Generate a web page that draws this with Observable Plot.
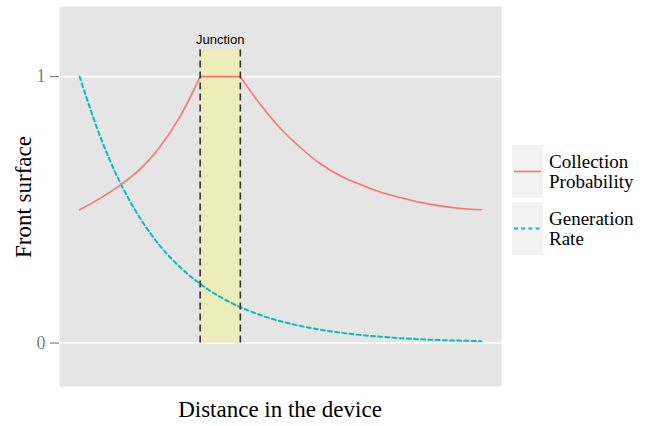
<!DOCTYPE html>
<html><head><meta charset="utf-8">
<script src="https://cdn.jsdelivr.net/npm/d3@7"></script>
<script src="https://cdn.jsdelivr.net/npm/@observablehq/plot@0.6"></script>
<style>
body{margin:0;background:#fff;}
#wrap{position:relative;width:648px;height:426px;overflow:hidden;}
.key{position:absolute;left:512px;width:31px;height:53px;background:#f2f2f2;}
.ktext{position:absolute;left:549px;height:53px;display:flex;align-items:center;font-family:"Liberation Serif","Times New Roman",serif;font-size:19px;line-height:20px;color:#000;}
</style></head><body><div id="wrap"></div>
<script>
// Collection probability (segmented: rising, flat across junction, falling)
const collectionX = [0,0.5,1,1.5,2,2.5,3, 3,4, 4,4.5,5,5.5,6,6.5,7,7.5,8,8.5,9,9.5,10];
const collectionY = [0.5,0.542,0.592,0.652,0.737,0.85,1, 1,1, 1,0.895,0.805,0.733,0.672,0.627,0.594,0.566,0.545,0.527,0.514,0.505,0.5];
const collectionSeg = [1,1,1,1,1,1,1, 2,2, 3,3,3,3,3,3,3,3,3,3,3,3,3];
// Generation rate
const generationX = [0,0.5,1,1.5,2,2.5,3,3.5,4,4.5,5,5.5,6,6.5,7,7.5,8,8.5,9,9.5,10];
const generationY = [1,0.78,0.605,0.47,0.365,0.285,0.222,0.173,0.135,0.105,0.082,0.064,0.05,0.039,0.03,0.024,0.018,0.014,0.011,0.009,0.007];
// Junction region
const junctionStart = 3, junctionEnd = 4, junctionTop = 1.1;
const junctionLabel = "Junction";
const yTicks = [0, 1];
const yTickLabels = ["0", "1"];
const seriesNames = ["Collection\nProbability", "Generation\nRate"];
const seriesColors = ["#F8766D", "#00BFC4"];
const xTitle = "Distance in the device";
const yTitle = "Front surface";

const collection = collectionX.map((x,i)=>({x, y: collectionY[i], seg: collectionSeg[i]}));
const generation = generationX.map((x,i)=>({x, y: generationY[i]}));
const ticks = yTicks.map((v,i)=>({v, label: yTickLabels[i]}));

const serif = "Liberation Serif, Times New Roman, serif";
const xMin = -0.5, xMax = 10.5;
const tickLen = 9 / 40.2; // tick length in x units

const plot = Plot.plot({
  width: 648, height: 426,
  marginLeft: 59, marginRight: 147, marginTop: 6, marginBottom: 40,
  style: {background: "white", fontFamily: serif},
  x: {type: "linear", domain: [xMin, xMax], axis: null},
  y: {type: "linear", domain: [-0.163, 1.263], axis: null},
  marks: [
    Plot.frame({fill: "#E5E5E5", stroke: null}),
    Plot.ruleY(yTicks, {stroke: "white", strokeWidth: 1.6}),
    // y-axis ticks and labels
    Plot.ruleY(ticks, {y: "v", x1: xMin - tickLen, x2: xMin, stroke: "#7f7f7f", strokeWidth: 1.2}),
    Plot.text(ticks, {frameAnchor: "left", y: "v", text: "label", dx: -14, textAnchor: "end", fontSize: 18, fontFamily: serif, fill: "#7f7f7f"}),
    Plot.rect([{x1: junctionStart, x2: junctionEnd, y1: 0, y2: junctionTop}], {x1: "x1", x2: "x2", y1: "y1", y2: "y2", fill: "#EDEDB9"}),
    Plot.line(generation, {x: "x", y: "y", stroke: seriesColors[1], strokeWidth: 2, strokeDasharray: "4,3.2", curve: "catmull-rom"}),
    Plot.line(collection, {x: "x", y: "y", z: "seg", stroke: seriesColors[0], strokeWidth: 1.6, curve: "catmull-rom"}),
    Plot.ruleX([junctionStart, junctionEnd], {y1: 0, y2: junctionTop, stroke: "#333", strokeWidth: 1.6, strokeDasharray: "7,4"}),
    Plot.text([junctionLabel], {x: (junctionStart+junctionEnd)/2, y: 1.137, text: d => d, fontFamily: "Liberation Sans, Arial, sans-serif", fontSize: 13, fill: "#000"})
  ]
});

const wrap = document.getElementById("wrap");
wrap.appendChild(plot);

const svg = d3.select(plot);
svg.append("text").attr("x", 280).attr("y", 417).attr("text-anchor", "middle")
  .attr("font-family", serif).attr("font-size", 23).attr("fill", "#000").text(xTitle);
svg.append("text").attr("transform", "translate(31,197) rotate(-90)").attr("text-anchor", "middle")
  .attr("font-family", serif).attr("font-size", 23).attr("fill", "#000").text(yTitle);

// Legend (HTML overlay to the right of the panel)
const keyTops = [145, 202];
seriesNames.forEach((name, i) => {
  const key = document.createElement("div");
  key.className = "key";
  key.style.top = keyTops[i] + "px";
  const dash = i === 1 ? ' stroke-dasharray="4,3.2"' : '';
  const sw = i === 1 ? 2 : 1.6;
  key.innerHTML = `<svg width="31" height="53"><line x1="2" x2="29" y1="26.5" y2="26.5" stroke="${seriesColors[i]}" stroke-width="${sw}"${dash}/></svg>`;
  wrap.appendChild(key);
  const t = document.createElement("div");
  t.className = "ktext";
  t.style.top = keyTops[i] + "px";
  t.innerHTML = name.split("\n").join("<br>");
  wrap.appendChild(t);
});
</script>
</body></html>
